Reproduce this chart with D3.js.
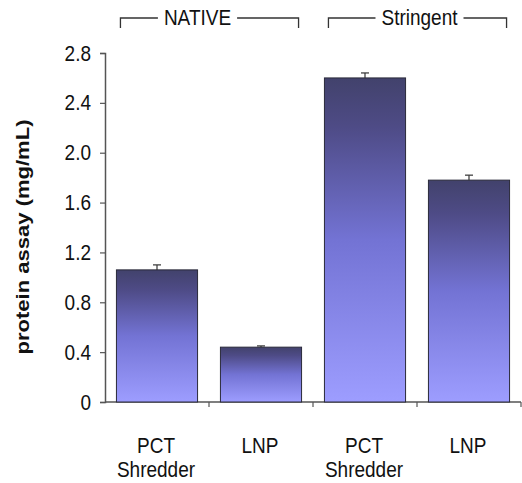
<!DOCTYPE html>
<html>
<head>
<meta charset="utf-8">
<script src="https://cdn.jsdelivr.net/npm/d3@7"></script>
<style>
  body { margin: 0; background: #fff; }
  text { font-family: "Liberation Sans", Arial, sans-serif; fill: #111; }
</style>
</head>
<body>
<svg id="chart" width="522" height="483"></svg>
<script>
// ---------------------------------------------
//  Data
// ---------------------------------------------
const categories = ["PCT Shredder (native)", "LNP (native)", "PCT Shredder (stringent)", "LNP (stringent)"];
const labelLines = [["PCT", "Shredder"], ["LNP"], ["PCT", "Shredder"], ["LNP"]];
const values = [1.06, 0.44, 2.60, 1.78];
const errors = [0.04, 0.01, 0.04, 0.04];
const groups = ["NATIVE", "Stringent"];
const groupMembers = [[0, 1], [2, 3]];
const yTicks = [0, 0.4, 0.8, 1.2, 1.6, 2.0, 2.4, 2.8];
const yTitle = "protein assay (mg/mL)";

// ---------------------------------------------
//  Layout
// ---------------------------------------------
const svg = d3.select("#chart");
const plotLeft = 105, plotRight = 521, plotTop = 53, plotBottom = 402;
const fontSize = 19;
const stretch = 1.16;               // the original's text is a bit tall
const groupLabelShift = [-12, 2];   // labels sit off-centre on the brackets

const x = d3.scaleBand()
  .domain(categories)
  .range([plotLeft, plotRight])
  .paddingInner(0.22)
  .paddingOuter(0.11);

const y = d3.scaleLinear()
  .domain([0, 2.8])
  .range([plotBottom, plotTop]);

// Bar gradient (dark top, light bottom)
const grad = svg.append("defs").append("linearGradient")
  .attr("id", "barGrad")
  .attr("x1", 0).attr("y1", 0).attr("x2", 0).attr("y2", 1);
grad.append("stop").attr("offset", "0%").attr("stop-color", "#42426c");
grad.append("stop").attr("offset", "15%").attr("stop-color", "#4e4b86");
grad.append("stop").attr("offset", "50%").attr("stop-color", "#7373d4");
grad.append("stop").attr("offset", "100%").attr("stop-color", "#9d9dff");

// Text helper: places a stretched label at (tx, ty)
function addText(tx, ty, str, anchor) {
  return svg.append("text")
    .attr("transform", `translate(${tx},${ty}) scale(1,${stretch})`)
    .attr("text-anchor", anchor || "middle")
    .style("font-size", fontSize + "px")
    .text(str);
}

// ---------------------------------------------
//  Axes
// ---------------------------------------------
const yAxis = svg.append("g")
  .attr("transform", `translate(${plotLeft},0)`)
  .call(d3.axisLeft(y).tickValues(yTicks).tickSize(5).tickPadding(9)
    .tickFormat(d => d === 0 ? "0" : d3.format(".1f")(d)));
yAxis.select(".domain").attr("stroke", "#555").attr("stroke-width", 1.5);
yAxis.selectAll(".tick line").attr("stroke", "#555").attr("stroke-width", 1.2);
yAxis.selectAll(".tick text")
  .attr("transform", `scale(1,${stretch})`)
  .style("font-family", "'Liberation Sans', Arial, sans-serif")
  .style("font-size", fontSize + "px").attr("fill", "#111");

// x axis line with ticks at category boundaries
svg.append("line")
  .attr("x1", plotLeft).attr("x2", plotRight)
  .attr("y1", plotBottom).attr("y2", plotBottom)
  .attr("stroke", "#555").attr("stroke-width", 1.5);

svg.selectAll(".xtick")
  .data(d3.range(1, categories.length + 1))
  .enter().append("line")
  .attr("class", "xtick")
  .attr("x1", i => plotLeft + i * x.step())
  .attr("x2", i => plotLeft + i * x.step())
  .attr("y1", plotBottom).attr("y2", plotBottom + 5)
  .attr("stroke", "#555").attr("stroke-width", 1.2);

// ---------------------------------------------
//  Bars + error bars
// ---------------------------------------------
svg.selectAll(".bar")
  .data(values)
  .enter().append("rect")
  .attr("class", "bar")
  .attr("x", (d, i) => x(categories[i]))
  .attr("y", d => y(d))
  .attr("width", x.bandwidth())
  .attr("height", d => y(0) - y(d))
  .attr("fill", "url(#barGrad)")
  .attr("stroke", "#2a2a3a")
  .attr("stroke-width", 1);

const err = svg.selectAll(".err")
  .data(values)
  .enter().append("g")
  .attr("class", "err")
  .attr("stroke", "#333")
  .attr("stroke-width", 1.2);
err.append("line")
  .attr("x1", (d, i) => x(categories[i]) + x.bandwidth() / 2)
  .attr("x2", (d, i) => x(categories[i]) + x.bandwidth() / 2)
  .attr("y1", d => y(d))
  .attr("y2", (d, i) => y(d + errors[i]));
err.append("line")
  .attr("x1", (d, i) => x(categories[i]) + x.bandwidth() / 2 - 4)
  .attr("x2", (d, i) => x(categories[i]) + x.bandwidth() / 2 + 4)
  .attr("y1", (d, i) => y(d + errors[i]))
  .attr("y2", (d, i) => y(d + errors[i]));

// ---------------------------------------------
//  Category labels
// ---------------------------------------------
categories.forEach((c, i) => {
  labelLines[i].forEach((line, j) => {
    addText(x(c) + x.bandwidth() / 2 - 1, 453 + j * 24, line);
  });
});

// ---------------------------------------------
//  Group brackets
// ---------------------------------------------
const bracketY = 18;
groups.forEach((g, k) => {
  const first = categories[groupMembers[k][0]];
  const last = categories[groupMembers[k][groupMembers[k].length - 1]];
  const x0 = x(first) + 4;
  const x1 = x(last) + x.bandwidth() - 3;
  const mid = (x0 + x1) / 2 + groupLabelShift[k];

  const label = addText(mid, bracketY + 7, g);
  const w = label.node().getComputedTextLength();
  const gap = 6;

  svg.append("path")
    .attr("d", `M${x0},${bracketY + 10}V${bracketY}H${mid - w / 2 - gap}`)
    .attr("fill", "none").attr("stroke", "#333").attr("stroke-width", 1.3);
  svg.append("path")
    .attr("d", `M${mid + w / 2 + gap},${bracketY}H${x1}V${bracketY + 10}`)
    .attr("fill", "none").attr("stroke", "#333").attr("stroke-width", 1.3);
});

// ---------------------------------------------
//  Y axis title
// ---------------------------------------------
svg.append("text")
  .attr("transform", `translate(29,237) rotate(-90) scale(${stretch},1)`)
  .attr("text-anchor", "middle")
  .style("font-size", fontSize + "px")
  .style("font-weight", "bold")
  .text(yTitle);
</script>
</body>
</html>
